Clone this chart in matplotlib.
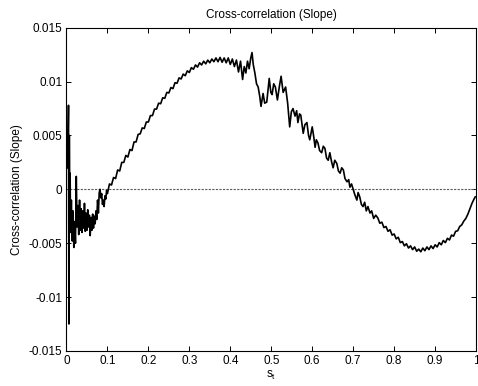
import numpy as np
import matplotlib
matplotlib.use("Agg")
from matplotlib import pyplot as plt

# values, y in units of 1e-3
early_x = [0.003, 0.005, 0.006, 0.007, 0.008, 0.009, 0.010, 0.012, 0.014, 0.016,
           0.018, 0.020, 0.022, 0.024, 0.026, 0.028, 0.030, 0.032, 0.034, 0.036,
           0.038, 0.040, 0.042, 0.044, 0.046, 0.048, 0.050, 0.052, 0.054, 0.056,
           0.058, 0.060, 0.062, 0.064, 0.066, 0.068, 0.070, 0.072, 0.074, 0.076,
           0.078, 0.080, 0.082, 0.084, 0.086, 0.088, 0.090, 0.092, 0.094, 0.096,
           0.098, 0.100]
early_y = [2.0, 7.8, -12.5, 5.0, -2.0, 1.5, -4.0, -1.0, -4.8, -2.0,
           -5.4, -3.0, -5.0, 1.2, -3.5, -1.5, -4.2, -1.0, -3.8, -1.8,
           -4.0, -2.0, -3.6, -1.3, -3.9, -2.2, -3.8, -1.9, -3.5, -2.4,
           -4.3, -2.6, -3.8, -2.3, -3.6, -2.5, -3.2, -2.0, -2.8, -1.0,
           -2.2, -0.3, 0.0, -0.8, -0.4, -1.4, -1.0, -1.6, -0.6, -0.9,
           -0.1, -0.4]

rise_x = [0.105, 0.110, 0.115, 0.120, 0.125, 0.130, 0.135, 0.140, 0.145, 0.150,
          0.155, 0.160, 0.165, 0.170, 0.175, 0.180, 0.185, 0.190, 0.195, 0.200,
          0.205, 0.210, 0.215, 0.220, 0.225, 0.230, 0.235, 0.240, 0.245, 0.250,
          0.255, 0.260, 0.265, 0.270, 0.275, 0.280, 0.285, 0.290, 0.295, 0.300,
          0.305, 0.310, 0.315, 0.320, 0.325, 0.330, 0.335, 0.340, 0.345, 0.350,
          0.355, 0.360, 0.365, 0.370, 0.375, 0.380, 0.385, 0.390, 0.395, 0.400,
          0.405, 0.410, 0.415, 0.420]
rise_y = [0.5, 0.4, 1.1, 1.0, 1.8, 1.7, 2.5, 2.5, 3.15, 3.0,
          3.7, 3.6, 4.4, 4.4, 5.1, 5.15, 5.7, 5.65, 6.25, 6.25,
          6.85, 6.85, 7.45, 7.45, 8.0, 7.95, 8.5, 8.45, 9.0, 8.95,
          9.45, 9.35, 9.9, 9.85, 10.35, 10.25, 10.7, 10.55, 11.0, 10.85,
          11.3, 11.15, 11.55, 11.35, 11.75, 11.55, 11.9, 11.65, 12.0, 11.75,
          12.1, 11.85, 12.2, 11.85, 12.25, 11.8, 12.2, 11.75, 12.2, 11.6,
          12.1, 11.4, 12.0, 10.9]

mid_x = [0.425, 0.430, 0.434, 0.438, 0.442, 0.446, 0.450, 0.453, 0.456, 0.460,
         0.464, 0.468, 0.472, 0.475, 0.480, 0.484, 0.489, 0.492, 0.495, 0.499,
         0.502, 0.506, 0.510, 0.515, 0.520, 0.524, 0.529, 0.535, 0.540, 0.545,
         0.549, 0.553, 0.558, 0.562, 0.565, 0.569, 0.572, 0.578, 0.582, 0.587,
         0.591, 0.594, 0.600, 0.604, 0.607, 0.610, 0.614, 0.618, 0.623, 0.627,
         0.631, 0.635, 0.639, 0.643, 0.647, 0.651, 0.655, 0.660, 0.664, 0.668,
         0.672, 0.676, 0.680, 0.685, 0.689, 0.692, 0.696, 0.700, 0.704, 0.709,
         0.712, 0.716, 0.720, 0.724, 0.728, 0.732, 0.736, 0.741, 0.745, 0.750,
         0.755]
mid_y = [11.9, 10.2, 11.4, 10.8, 11.9, 11.2, 12.2, 12.7, 11.6, 10.8,
         9.8, 9.5, 8.6, 7.7, 8.9, 8.0, 8.1, 9.2, 10.3, 9.0,
         8.8, 9.8, 9.5, 8.3, 9.6, 10.5, 9.0, 9.5, 8.0, 5.8,
         7.2, 7.5, 6.8, 7.3, 6.2, 7.0, 6.9, 5.2, 6.0, 6.2,
         5.0, 4.6, 5.8, 4.8, 3.9, 4.6, 4.3, 3.6, 3.4, 4.0,
         3.8, 2.9, 2.7, 3.4, 2.6, 2.0, 2.7, 2.4, 1.7, 1.5,
         2.0, 1.8, 1.0, 0.7, 0.9, 0.2, 0.5, 0.0, -0.5, -1.0,
         -0.3, -0.7, -1.4, -1.6, -1.2, -2.0, -1.6, -2.2, -2.0, -2.7,
         -2.4]

tail_x = [0.760, 0.765, 0.770, 0.775, 0.780, 0.785, 0.790, 0.795, 0.800, 0.805,
          0.810, 0.815, 0.820, 0.825, 0.830, 0.835, 0.840, 0.845, 0.850, 0.855,
          0.860, 0.865, 0.870, 0.875, 0.880, 0.885, 0.890, 0.895, 0.900, 0.905,
          0.910, 0.915, 0.920, 0.925, 0.930, 0.935, 0.940, 0.945, 0.950, 0.955,
          0.960, 0.965, 0.970, 0.975, 0.980, 0.985, 0.990, 0.995, 0.998]
tail_y = [-2.65, -3.15, -3.05, -3.55, -3.45, -3.9, -3.75, -4.25, -4.15, -4.6,
          -4.45, -4.95, -4.85, -5.25, -5.05, -5.45, -5.25, -5.6, -5.35, -5.75,
          -5.55, -5.8, -5.45, -5.7, -5.35, -5.6, -5.25, -5.5, -5.15, -5.35,
          -4.95, -5.15, -4.75, -4.95, -4.55, -4.7, -4.25, -4.35, -3.9, -3.85,
          -3.45, -3.3, -2.95, -2.7, -2.3, -1.8, -1.3, -0.9, -0.7]

xticks = [0, 0.1, 0.2, 0.3, 0.4, 0.5, 0.6, 0.7, 0.8, 0.9, 1]
xticklabels = ['0', '0.1', '0.2', '0.3', '0.4', '0.5', '0.6', '0.7', '0.8', '0.9', '1']
yticks = [-0.015, -0.01, -0.005, 0, 0.005, 0.01, 0.015]
yticklabels = ['-0.015', '-0.01', '-0.005', '0', '0.005', '0.01', '0.015']

plt.rcParams['font.family'] = ['Liberation Sans', 'DejaVu Sans']
plt.rcParams['font.size'] = 8.5

s = np.array(early_x + rise_x + mid_x + tail_x)
c = np.array(early_y + rise_y + mid_y + tail_y) * 1e-3

fig = plt.figure(figsize=(4.78, 3.86), dpi=100)
ax = fig.add_axes([0.139, 0.091, 0.857, 0.837])

ax.plot([0, 1], [0, 0], color='0.35', linewidth=0.8, dashes=(2, 1.2))
ax.plot(s, c, color='black', linewidth=1.2)

ax.set_xlim(0, 1)
ax.set_ylim(-0.015, 0.015)
ax.set_xticks(xticks)
ax.set_xticklabels(xticklabels)
ax.set_yticks(yticks)
ax.set_yticklabels(yticklabels)
ax.tick_params(direction='in', top=True, right=True, length=3.5, width=0.7, pad=3)
for sp in ax.spines.values():
	sp.set_linewidth(0.8)

ax.set_title('Cross-correlation (Slope)', fontsize=8.5, pad=7)
ax.set_ylabel('Cross-correlation (Slope)', labelpad=4)
ax.set_xlabel('$\\mathregular{s_t}$', labelpad=1)

fig.savefig('out.png', dpi=100)
